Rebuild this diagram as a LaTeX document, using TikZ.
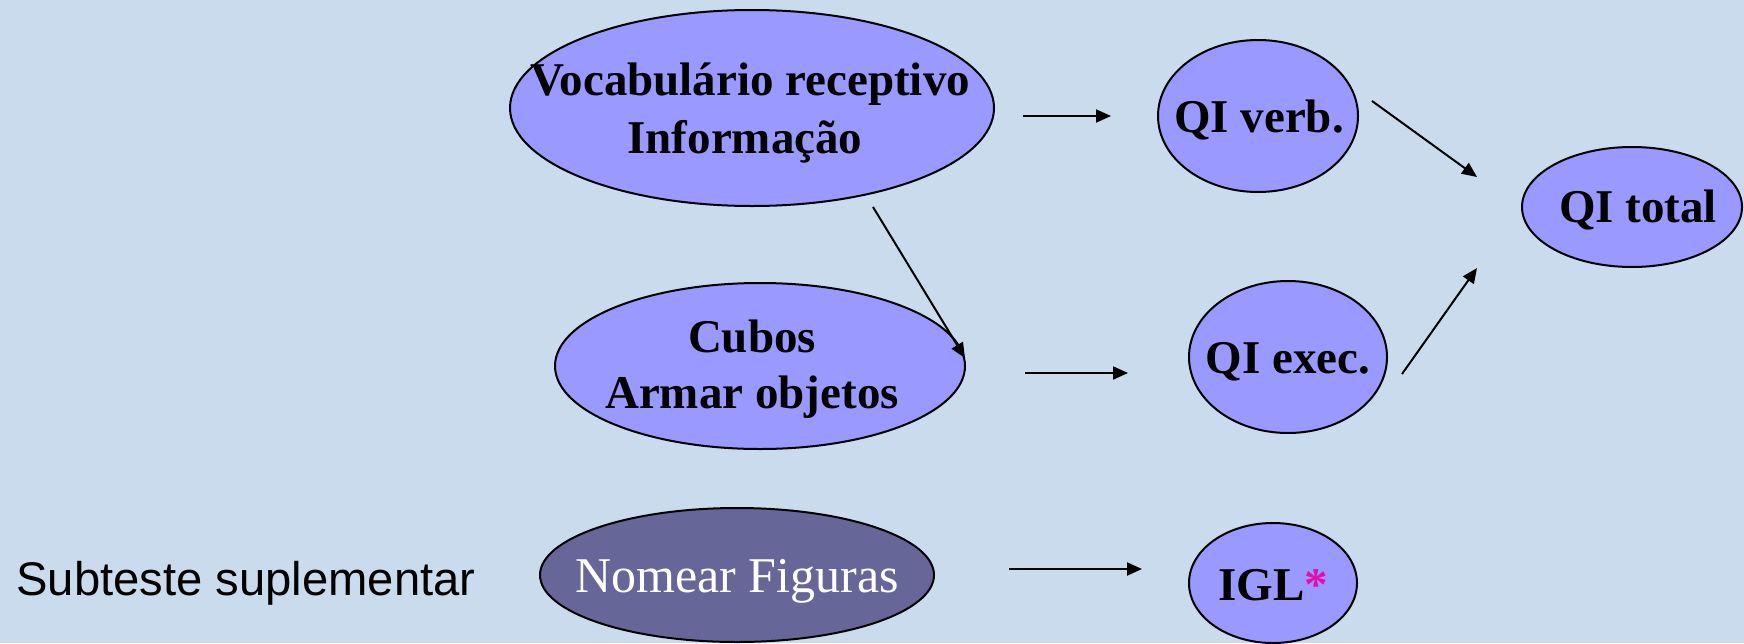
\documentclass[tikz,border=0pt]{standalone}
\usepackage{fontspec}
\setmainfont{Liberation Serif}
\newfontfamily\arialfont{Liberation Sans}
\usetikzlibrary{shapes.geometric,arrows.meta,calc}
\definecolor{bgblue}{RGB}{201,219,236}
\definecolor{ellfill}{RGB}{153,153,255}
\definecolor{darkfill}{RGB}{102,102,153}
\definecolor{starmag}{RGB}{224,16,176}
\begin{document}
\begin{tikzpicture}[x=0.5pt,y=-0.5pt,
  ell/.style={ellipse, draw=black, line width=1pt, fill=ellfill, inner sep=0pt},
  lbl/.style={anchor=base, inner sep=0pt, font=\fontsize{23.5}{28}\selectfont\bfseries},
  arr/.style={-{Triangle[length=7.5pt,width=6.5pt]}, line width=1pt}]
\fill[bgblue] (0,0) rectangle (1744,643);
\useasboundingbox (0,0) rectangle (1744,643);

% ellipses
\node[ell, minimum width=242pt, minimum height=98pt] (vocab) at (752,108) {};
\node[ell, minimum width=205pt, minimum height=83pt] (cubos) at (760,366) {};
\node[ell, fill=darkfill, minimum width=197pt, minimum height=67pt] (nomear) at (737,575) {};
\node[ell, minimum width=100pt, minimum height=76pt] (qv) at (1258,116) {};
\node[ell, minimum width=99pt, minimum height=76pt] (qe) at (1288,357) {};
\node[ell, minimum width=110pt, minimum height=60pt] (qt) at (1632,207) {};
\node[ell, minimum width=84pt, minimum height=60pt] (igl) at (1273,583) {};

% texts
\node[lbl] (vocabA) at (750,95) {Vocabulário receptivo};
\node[lbl] (vocabB) at (745,153) {Informação};
\node[lbl] (cubosA) at (752,352) {Cubos};
\node[lbl] (cubosB) at (752,408) {Armar objetos};
\node[lbl] (qvT) at (1259,132) {QI verb.};
\node[lbl] (qeT) at (1288,373) {QI exec.};
\node[lbl] (qtT) at (1638,222) {QI total};
\node[lbl] (iglT) at (1273,600) {IGL\textcolor{starmag}{*}};
\node[anchor=base, inner sep=0pt, text=white, font=\fontsize{25}{30}\selectfont] (nomT) at (737,592) {Nomear Figuras};
\node[anchor=base west, inner sep=0pt, font=\arialfont\fontsize{23.6}{28}\selectfont] (sub) at (16,595) {Subteste suplementar};

% connectors
\draw[arr] ($(vocab.east|-qv.west)+(28,0)$) -- ($(qv.west)+(-46,0)$);
\draw[arr] ($(vocab.south)+(121,0)$) -- ($(cubos.east)+(-1,-8)$);
\draw[arr] ($(cubos.east)+(59,7)$) -- ($(qe.west)+(-60,16)$);
\draw[arr] ($(qv.east)+(13,-15)$) -- ($(qt.west)+(-44,-30)$);
\draw[arr] ($(qe.east)+(14,17)$) -- ($(qt.west)+(-44,61)$);
\draw[arr] ($(nomear.east)+(74,-6)$) -- ($(igl.west)+(-46,-14)$);
\end{tikzpicture}
\end{document}
